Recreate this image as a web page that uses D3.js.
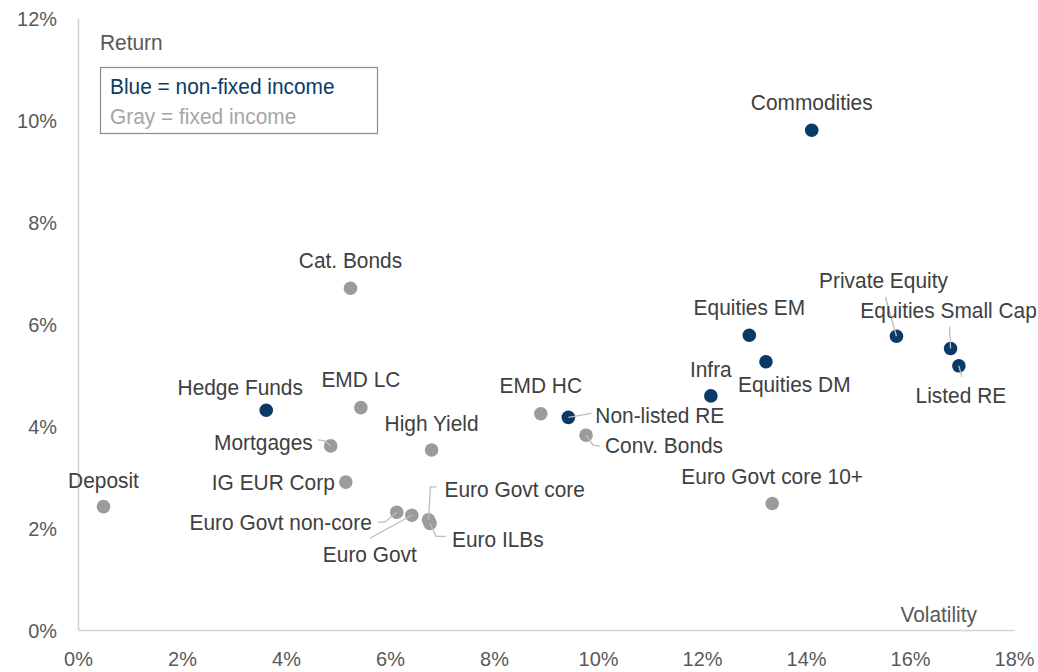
<!DOCTYPE html>
<html>
<head>
<meta charset="utf-8">
<script src="https://cdn.jsdelivr.net/npm/d3@7/dist/d3.min.js"></script>
<style>
  html, body { margin: 0; padding: 0; background: #fff; }
  svg { display: block; }
  text { font-family: "Liberation Sans", Arial, sans-serif; }
</style>
</head>
<body>
<svg id="chart" width="1038" height="672"></svg>
<script>
// ---------------- DATA ----------------
const assetNames = [
  "Deposit", "IG EUR Corp", "Euro Govt non-core", "Euro Govt", "Euro Govt core", "Euro ILBs",
  "Mortgages", "EMD LC", "Cat. Bonds", "High Yield", "EMD HC", "Conv. Bonds", "Euro Govt core 10+",
  "Hedge Funds", "Non-listed RE", "Infra", "Equities EM", "Equities DM", "Commodities",
  "Private Equity", "Equities Small Cap", "Listed RE"
];
const volatility = [
  0.49, 5.15, 6.13, 6.42, 6.74, 6.77,
  4.86, 5.44, 5.24, 6.80, 8.90, 9.77, 13.35,
  3.62, 9.43, 12.17, 12.91, 13.23, 14.11,
  15.74, 16.78, 16.94
];
const expectedReturn = [
  2.42, 2.90, 2.31, 2.25, 2.16, 2.09,
  3.61, 4.36, 6.70, 3.53, 4.24, 3.82, 2.48,
  4.31, 4.17, 4.59, 5.78, 5.26, 9.80,
  5.76, 5.52, 5.18
];
const assetClass = [
  "fixed", "fixed", "fixed", "fixed", "fixed", "fixed",
  "fixed", "fixed", "fixed", "fixed", "fixed", "fixed", "fixed",
  "non-fixed", "non-fixed", "non-fixed", "non-fixed", "non-fixed", "non-fixed",
  "non-fixed", "non-fixed", "non-fixed"
];
const xTickValues = [0, 2, 4, 6, 8, 10, 12, 14, 16, 18];
const yTickValues = [0, 2, 4, 6, 8, 10, 12];
const xAxisTitle = "Volatility";
const yAxisTitle = "Return";
const legendLines = ["Blue = non-fixed income", "Gray = fixed income"];

// ---------------- LAYOUT / STYLE ----------------
const W = 1038, H = 672;
const margin = { left: 78, top: 18, right: 24, bottom: 42 };
const FS = 22, SX = 0.95;         // label font size and horizontal squeeze
const TFS = 21;                   // tick font size
const colors = { "non-fixed": "#0b3a66", "fixed": "#9b9b9b" };
// label placement relative to the point (pixels): dx, dy (baseline), anchor, optional leader
const labelLayout = {
  "Deposit":            { dx: 0,   dy: -19, a: "middle" },
  "IG EUR Corp":        { dx: -11, dy: 8,   a: "end" },
  "Euro Govt non-core": { dx: -25, dy: 18,  a: "end",   leader: [[-19, 10], [-12, 10], [0, 0]] },
  "Euro Govt":          { dx: -42, dy: 47,  a: "middle", leader: [[-42, 23], [0, 0]] },
  "Euro Govt core":     { dx: 16,  dy: -23, a: "start", leader: [[0, 0], [2, -33], [8, -33]] },
  "Euro ILBs":          { dx: 22,  dy: 24,  a: "start", leader: [[0, 0], [6, 13], [16, 13]] },
  "Mortgages":          { dx: -18, dy: 4,   a: "end",   leader: [[-13, -6], [-6, -5], [0, 0]] },
  "EMD LC":             { dx: 0,   dy: -21, a: "middle" },
  "Cat. Bonds":         { dx: 0,   dy: -20, a: "middle" },
  "High Yield":         { dx: 0,   dy: -19, a: "middle" },
  "EMD HC":             { dx: 0,   dy: -21, a: "middle" },
  "Conv. Bonds":        { dx: 19,  dy: 18,  a: "start", leader: [[0, 0], [7, 10], [14, 11]] },
  "Euro Govt core 10+": { dx: 0,   dy: -20, a: "middle" },
  "Hedge Funds":        { dx: -26, dy: -15, a: "middle" },
  "Non-listed RE":      { dx: 27,  dy: 6,   a: "start", leader: [[0, 0], [12, -2], [23, -4]] },
  "Infra":              { dx: 0,   dy: -19, a: "middle" },
  "Equities EM":        { dx: 0,   dy: -20, a: "middle" },
  "Equities DM":        { dx: -28, dy: 30,  a: "start" },
  "Commodities":        { dx: 0,   dy: -20, a: "middle" },
  "Private Equity":     { dx: -13, dy: -48, a: "middle", leader: [[-11, -39], [0, 0]] },
  "Equities Small Cap": { dx: -2,  dy: -30, a: "middle", leader: [[-1, -22], [0, 0]] },
  "Listed RE":          { dx: 2,   dy: 37,  a: "middle", leader: [[0, 0], [3, 11]] }
};

// ---------------- CHART ----------------
const svg = d3.select("#chart");
const x = d3.scaleLinear().domain([0, 18]).range([margin.left, W - margin.right]);
const y = d3.scaleLinear().domain([0, 12]).range([H - margin.bottom, margin.top]);

const points = assetNames.map((n, i) => ({
  name: n, vol: volatility[i], ret: expectedReturn[i], cls: assetClass[i]
}));

// axes
const xAxis = d3.axisBottom(x).tickValues(xTickValues).tickFormat(d => d + "%")
  .tickSize(0).tickSizeOuter(0).tickPadding(21);
const yAxis = d3.axisLeft(y).tickValues(yTickValues).tickFormat(d => d + "%")
  .tickSize(0).tickSizeOuter(0).tickPadding(21);

const gx = svg.append("g").attr("transform", `translate(0,${H - margin.bottom})`).call(xAxis);
const gy = svg.append("g").attr("transform", `translate(${margin.left},0)`).call(yAxis);
[gx, gy].forEach(g => {
  g.select(".domain").attr("stroke", "#d4d4d4").attr("stroke-width", 1.6);
  g.selectAll("text").attr("fill", "#595959").attr("font-size", TFS)
    .attr("font-family", "'Liberation Sans', Arial, sans-serif");
});
gx.selectAll(".tick text").attr("transform", `scale(${SX},1)`);
gy.selectAll(".tick text").attr("x", -21 / SX).attr("transform", `scale(${SX},1)`).attr("dy", "0.36em");

function addText(parent, tx, ty, str, opts) {
  const g = parent.append("g").attr("transform", `translate(${tx},${ty})`);
  g.append("text")
    .attr("transform", `scale(${SX},1)`)
    .attr("text-anchor", opts.anchor || "start")
    .attr("font-size", opts.size || FS)
    .attr("fill", opts.fill || "#404040")
    .text(str);
  return g;
}

// axis titles
addText(svg, 100, 50, yAxisTitle, { fill: "#595959" });
addText(svg, 977, 622, xAxisTitle, { fill: "#595959", anchor: "end" });

// legend box
svg.append("rect").attr("x", 100.5).attr("y", 67.5).attr("width", 277).attr("height", 66)
  .attr("fill", "none").attr("stroke", "#8c8c8c").attr("stroke-width", 1.2);
addText(svg, 110, 94, legendLines[0], { fill: colors["non-fixed"] });
addText(svg, 110, 124, legendLines[1], { fill: "#a6a6a6" });

// points
svg.append("g").selectAll("circle").data(points).join("circle")
  .attr("cx", d => x(d.vol)).attr("cy", d => y(d.ret)).attr("r", 6.8)
  .attr("fill", d => colors[d.cls]);

// leaders
const line = d3.line().curve(d3.curveLinear);
svg.append("g").selectAll("path").data(points.filter(d => labelLayout[d.name].leader)).join("path")
  .attr("d", d => line(labelLayout[d.name].leader.map(p => [x(d.vol) + p[0], y(d.ret) + p[1]])))
  .attr("fill", "none").attr("stroke", "#bdbdbd").attr("stroke-width", 1.3);

// labels
const gl = svg.append("g");
points.forEach(d => {
  const L = labelLayout[d.name];
  addText(gl, x(d.vol) + L.dx, y(d.ret) + L.dy, d.name, { anchor: L.a });
});
</script>
</body>
</html>
